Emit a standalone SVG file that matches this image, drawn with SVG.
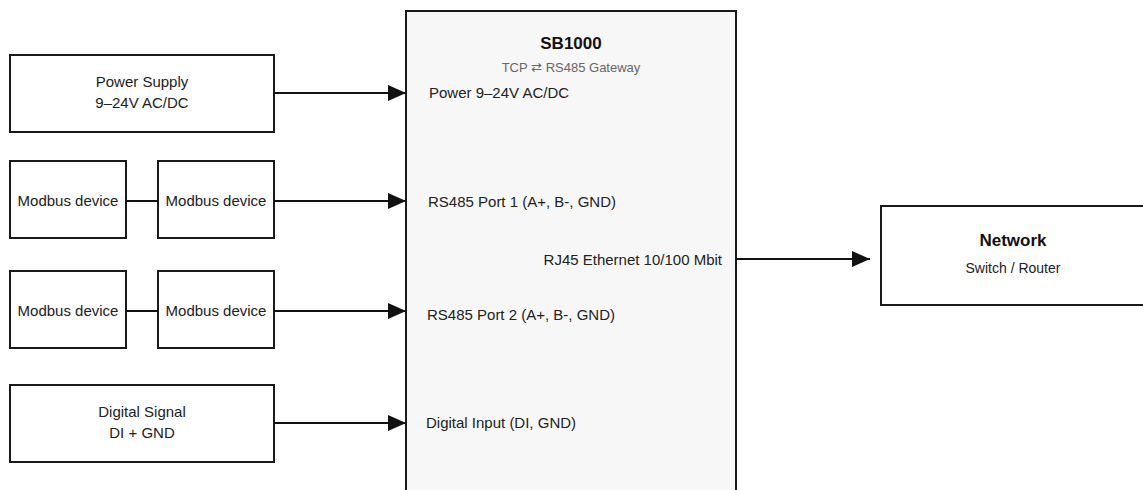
<svg xmlns="http://www.w3.org/2000/svg" width="1143" height="490" viewBox="0 0 1143 490">
<defs>
<marker id="ah" markerWidth="18" markerHeight="16" refX="18" refY="8" orient="auto" markerUnits="userSpaceOnUse">
<path d="M0,0 L18,8 L0,16 Z" fill="#111"/>
</marker>
<style>
.box{fill:#fff;stroke:#1a1a1a;stroke-width:2}
.main{fill:#f7f7f7;stroke:#1a1a1a;stroke-width:2}
.t{font-family:"Liberation Sans",Arial,sans-serif;font-size:15px;fill:#222}
.c{text-anchor:middle}
.b{font-weight:bold;font-size:17px;fill:#111}
.s{font-size:13px;fill:#666}
.ln{stroke:#111;stroke-width:2;fill:none}
</style>
</defs>
<rect width="1143" height="490" fill="#fff"/>
<g id="sb1000">
<rect class="main" x="406" y="11" width="330" height="500"/>
<text class="t c b" x="571" y="49">SB1000</text>
<text class="t c s" x="571" y="72">TCP ⇄ RS485 Gateway</text>
<text class="t" x="429" y="98">Power 9–24V AC/DC</text>
<text class="t" x="428" y="207">RS485 Port 1 (A+, B-, GND)</text>
<text class="t" x="427" y="320">RS485 Port 2 (A+, B-, GND)</text>
<text class="t" x="426" y="428">Digital Input (DI, GND)</text>
<text class="t" x="722" y="265" text-anchor="end">RJ45 Ethernet 10/100 Mbit</text>
</g>
<g id="power">
<rect class="box" x="10" y="55" width="264" height="77"/>
<text class="t c" x="142" y="87">Power Supply</text>
<text class="t c" x="142" y="108">9–24V AC/DC</text>
</g>
<g id="modbus1a">
<rect class="box" x="10" y="161" width="116" height="77"/>
<text class="t c" x="68" y="206">Modbus device</text>
</g>
<g id="modbus1b">
<rect class="box" x="158" y="161" width="116" height="77"/>
<text class="t c" x="216" y="206">Modbus device</text>
</g>
<g id="modbus2a">
<rect class="box" x="10" y="271" width="116" height="77"/>
<text class="t c" x="68" y="316">Modbus device</text>
</g>
<g id="modbus2b">
<rect class="box" x="158" y="271" width="116" height="77"/>
<text class="t c" x="216" y="316">Modbus device</text>
</g>
<g id="digital">
<rect class="box" x="10" y="385" width="264" height="77"/>
<text class="t c" x="142" y="417">Digital Signal</text>
<text class="t c" x="142" y="438">DI + GND</text>
</g>
<g id="network">
<rect class="box" x="881" y="206" width="270" height="99"/>
<text class="t c b" x="1013" y="246">Network</text>
<text class="t c" x="1013" y="273" style="font-size:14px">Switch / Router</text>
</g>
<g id="connectors">
<line class="ln" x1="274" y1="93" x2="406" y2="93" marker-end="url(#ah)"/>
<line class="ln" x1="126" y1="201" x2="158" y2="201"/>
<line class="ln" x1="274" y1="201" x2="406" y2="201" marker-end="url(#ah)"/>
<line class="ln" x1="126" y1="311" x2="158" y2="311"/>
<line class="ln" x1="274" y1="311" x2="406" y2="311" marker-end="url(#ah)"/>
<line class="ln" x1="274" y1="423" x2="406" y2="423" marker-end="url(#ah)"/>
<line class="ln" x1="736" y1="259" x2="870" y2="259" marker-end="url(#ah)"/>
</g>
</svg>
